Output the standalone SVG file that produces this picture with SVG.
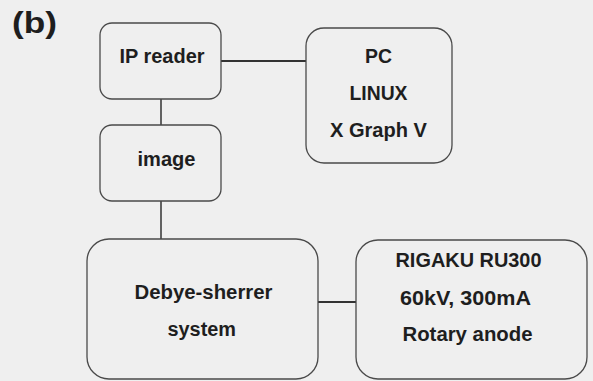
<svg xmlns="http://www.w3.org/2000/svg" width="593" height="381" viewBox="0 0 593 381">
<style>
.box{fill:#efefef;stroke:#4a4a4a;stroke-width:1.3}
.t{font-family:"Liberation Sans",Arial,sans-serif;font-weight:bold;font-size:20px;fill:#1e1e1e}
.c{stroke:#333;fill:none}
</style>
<rect width="593" height="381" fill="#efefef"/>
<text x="12" y="33" font-family="'Liberation Sans',Arial,sans-serif" font-weight="bold" font-size="29" fill="#1e1e1e" textLength="45" lengthAdjust="spacingAndGlyphs">(b)</text>
<g id="connectors">
<line class="c" x1="221" y1="61" x2="306" y2="61" stroke-width="2"/>
<line class="c" x1="161" y1="99" x2="161" y2="125" stroke-width="1.5"/>
<line class="c" x1="161" y1="201" x2="161" y2="240" stroke-width="1.5"/>
<line class="c" x1="318" y1="302" x2="356" y2="302" stroke-width="2"/>
</g>
<g id="ip-reader">
<rect class="box" x="100" y="23" width="121" height="76" rx="12"/>
<text class="t" x="119.5" y="63" textLength="85" lengthAdjust="spacingAndGlyphs">IP reader</text>
</g>
<g id="image">
<rect class="box" x="100" y="125" width="121" height="76" rx="12"/>
<text class="t" x="137.5" y="166" textLength="58" lengthAdjust="spacingAndGlyphs">image</text>
</g>
<g id="pc">
<rect class="box" x="306" y="28" width="146" height="135" rx="18"/>
<text class="t" x="365" y="63" textLength="27" lengthAdjust="spacingAndGlyphs">PC</text>
<text class="t" x="349.5" y="100" textLength="58" lengthAdjust="spacingAndGlyphs">LINUX</text>
<text class="t" x="330" y="137" textLength="97" lengthAdjust="spacingAndGlyphs">X Graph V</text>
</g>
<g id="debye">
<rect class="box" x="87" y="239" width="231" height="140" rx="22"/>
<text class="t" x="134.5" y="299" textLength="138" lengthAdjust="spacingAndGlyphs">Debye-sherrer</text>
<text class="t" x="167.5" y="336" textLength="68.5" lengthAdjust="spacingAndGlyphs">system</text>
</g>
<g id="rigaku">
<rect class="box" x="356" y="240" width="231" height="139" rx="22"/>
<text class="t" x="395.5" y="267" textLength="146" lengthAdjust="spacingAndGlyphs">RIGAKU RU300</text>
<text class="t" x="400" y="305" textLength="131" lengthAdjust="spacingAndGlyphs">60kV, 300mA</text>
<text class="t" x="402.5" y="341" textLength="130" lengthAdjust="spacingAndGlyphs">Rotary anode</text>
</g>
</svg>
